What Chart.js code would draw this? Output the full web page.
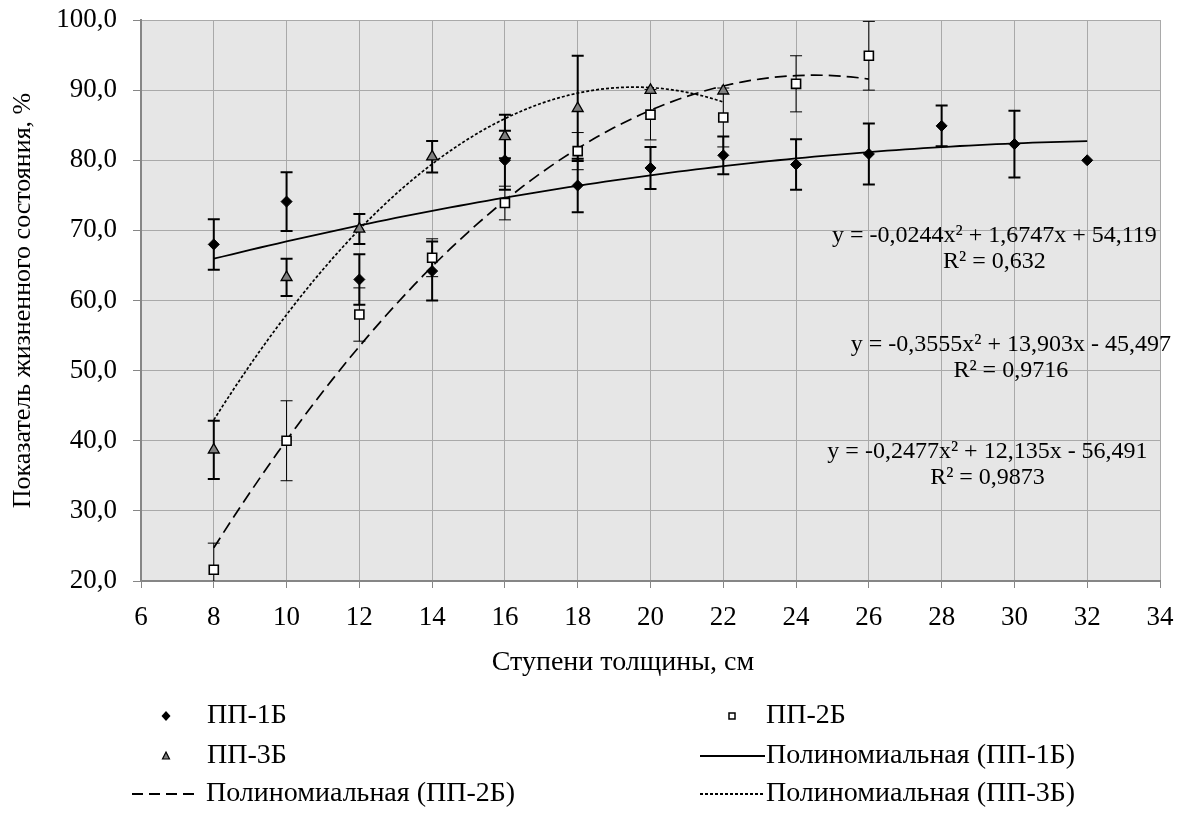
<!DOCTYPE html>
<html lang="ru">
<head>
<meta charset="utf-8">
<title>Показатель жизненного состояния</title>
<script src="https://cdn.jsdelivr.net/npm/chart.js@4.4.1/dist/chart.umd.min.js"></script>
<style>
  html, body { margin: 0; padding: 0; background: #fff; }
  #wrap { width: 1184px; height: 814px; }
</style>
</head>
<body>
<div id="wrap"><canvas id="my-chart" width="1184" height="814"></canvas></div>
<script>
'use strict';

//  DATA
let steps1 = [8, 10, 12, 14, 16, 18, 20, 22, 24, 26, 28, 30, 32];
let pp1Values = [68.0, 74.1, 63.0, 64.2, 80.0, 76.4, 78.9, 80.7, 79.4, 80.9, 84.9, 82.3, 80.0];
let pp1Errors = [3.6, 4.2, 3.6, 4.2, 4.2, 3.8, 3.0, 2.7, 3.6, 4.35, 2.9, 4.75, 0];

let steps2 = [8, 10, 12, 14, 16, 18, 20, 22, 24, 26];
let pp2Values = [21.6, 40.0, 58.0, 66.1, 73.9, 81.3, 86.5, 86.1, 90.9, 94.9];
let pp2Errors = [3.8, 5.7, 3.8, 2.7, 2.4, 2.65, 3.6, 4.2, 4.0, 4.9];

let steps3 = [8, 10, 12, 14, 16, 18, 20, 22];
let pp3Values = [38.7, 63.3, 70.2, 80.5, 83.4, 87.4, 90.0, 89.9];
let pp3Errors = [4.15, 2.65, 2.15, 2.25, 3.1, 7.5, 0, 0];

// trendline coefficients [a, b, c] for a*x^2 + b*x + c, as printed on the chart
let trend1Coef = [-0.0244, 1.6747, 54.119];
let trend2Coef = [-0.2477, 12.135, -56.491];
let trend3Coef = [-0.3555, 13.903, -45.497];

let seriesNames = ['ПП-1Б', 'ПП-2Б', 'ПП-3Б'];
let trendNames = ['Полиномиальная (ПП-1Б)', 'Полиномиальная (ПП-2Б)', 'Полиномиальная (ПП-3Б)'];
let trendEquations = ['y = -0,0244x² + 1,6747x + 54,119', 'y = -0,2477x² + 12,135x - 56,491', 'y = -0,3555x² + 13,903x - 45,497'];
let trendR2 = ['R² = 0,632', 'R² = 0,9873', 'R² = 0,9716'];

let xTicksMin = 6;
let xTicksMax = 34;
let xTickStep = 2;
let yTicksMin = 20;
let yTicksMax = 100;
let yTickStep = 10;

let xTitle = 'Ступени толщины, см';
let yTitle = 'Показатель жизненного состояния, %';

//  HELPERS
const FONT = '"Liberation Serif", "Times New Roman", serif';

function toPoints(xs, ys) {
  let pts = [];
  for (let i = 0; i < xs.length; i++) {
    pts.push({ x: xs[i], y: ys[i] });
  }
  return pts;
}

// sample the printed polynomial over the range of its series
function trendPoints(coef, from, to) {
  let pts = [];
  for (let x = from; x <= to + 1e-9; x += 0.25) {
    pts.push({ x: x, y: coef[0] * x * x + coef[1] * x + coef[2] });
  }
  return pts;
}

function fmtTick(v) {
  return v.toFixed(1).replace('.', ',');
}

// where the trendline labels sit, in data units (centre of text block, first line)
let labelAnchors = [
  { x: 29.45, y: 69.3 },
  { x: 29.26, y: 38.45 },
  { x: 29.9, y: 53.65 }
];

//  PLUGINS
let plotBackground = {
  id: 'plotBackground',
  beforeDraw(chart) {
    let a = chart.chartArea;
    let ctx = chart.ctx;
    ctx.save();
    ctx.fillStyle = '#e6e6e6';
    ctx.fillRect(a.left, a.top, a.right - a.left, a.bottom - a.top);
    ctx.restore();
  }
};

let errorBars = {
  id: 'errorBars',
  beforeDatasetsDraw(chart) {
    let ctx = chart.ctx;
    let xs = chart.scales.x;
    let ys = chart.scales.y;
    let a = chart.chartArea;
    ctx.save();
    ctx.beginPath();
    ctx.rect(a.left, a.top - 2, a.right - a.left, a.bottom - a.top + 2);
    ctx.clip();
    chart.data.datasets.forEach(function (ds) {
      if (!ds.errors) return;
      ctx.strokeStyle = '#000';
      ctx.lineWidth = ds.errorWidth;
      ds.data.forEach(function (p, i) {
        let e = ds.errors[i];
        if (!e) return;
        let x = xs.getPixelForValue(p.x);
        let yTop = ys.getPixelForValue(p.y + e);
        let yBot = ys.getPixelForValue(p.y - e);
        ctx.beginPath();
        ctx.moveTo(x, yTop);
        ctx.lineTo(x, yBot);
        ctx.moveTo(x - 6, yTop);
        ctx.lineTo(x + 6, yTop);
        ctx.moveTo(x - 6, yBot);
        ctx.lineTo(x + 6, yBot);
        ctx.stroke();
      });
    });
    ctx.restore();
  }
};

let trendLabels = {
  id: 'trendLabels',
  afterDatasetsDraw(chart) {
    let ctx = chart.ctx;
    let xs = chart.scales.x;
    let ys = chart.scales.y;
    ctx.save();
    ctx.fillStyle = '#000';
    ctx.font = '24px ' + FONT;
    ctx.textAlign = 'center';
    ctx.textBaseline = 'middle';
    for (let i = 0; i < labelAnchors.length; i++) {
      let cx = xs.getPixelForValue(labelAnchors[i].x);
      let cy = ys.getPixelForValue(labelAnchors[i].y);
      ctx.fillText(trendEquations[i], cx, cy);
      ctx.fillText(trendR2[i], cx, cy + 26);
    }
    ctx.restore();
  }
};

function drawMarker(ctx, kind, x, y) {
  ctx.save();
  ctx.beginPath();
  if (kind === 'diamond') {
    ctx.moveTo(x, y - 5);
    ctx.lineTo(x + 4.5, y);
    ctx.lineTo(x, y + 5);
    ctx.lineTo(x - 4.5, y);
    ctx.closePath();
    ctx.fillStyle = '#000';
    ctx.fill();
  } else if (kind === 'square') {
    ctx.rect(x - 3, y - 3, 6, 6);
    ctx.fillStyle = '#fff';
    ctx.fill();
    ctx.lineWidth = 1.5;
    ctx.strokeStyle = '#000';
    ctx.stroke();
  } else {
    ctx.moveTo(x, y - 4);
    ctx.lineTo(x + 3.5, y + 3);
    ctx.lineTo(x - 3.5, y + 3);
    ctx.closePath();
    ctx.fillStyle = '#7f7f7f';
    ctx.fill();
    ctx.lineWidth = 1.2;
    ctx.strokeStyle = '#000';
    ctx.stroke();
  }
  ctx.restore();
}

function drawSample(ctx, dash, x1, x2, y) {
  ctx.save();
  ctx.beginPath();
  ctx.setLineDash(dash);
  ctx.strokeStyle = '#000';
  ctx.lineWidth = 1.8;
  ctx.moveTo(x1, y);
  ctx.lineTo(x2, y);
  ctx.stroke();
  ctx.restore();
}

let bottomLegend = {
  id: 'bottomLegend',
  afterDraw(chart) {
    let ctx = chart.ctx;
    let rows = [716, 756, 794];
    ctx.save();
    ctx.fillStyle = '#000';
    ctx.font = '28px ' + FONT;
    ctx.textAlign = 'left';
    ctx.textBaseline = 'middle';

    drawMarker(ctx, 'diamond', 166, rows[0]);
    ctx.fillText(seriesNames[0], 207, rows[0]);
    drawMarker(ctx, 'square', 732, rows[0]);
    ctx.fillText(seriesNames[1], 766, rows[0]);

    drawMarker(ctx, 'triangle', 166, rows[1]);
    ctx.fillText(seriesNames[2], 207, rows[1]);
    drawSample(ctx, [], 700, 765, rows[1]);
    ctx.fillText(trendNames[0], 766, rows[1]);

    drawSample(ctx, [11, 6], 132, 198, rows[2]);
    ctx.fillText(trendNames[1], 206, rows[2]);
    drawSample(ctx, [3, 2], 700, 765, rows[2]);
    ctx.fillText(trendNames[2], 766, rows[2]);

    // x axis title
    ctx.textAlign = 'center';
    ctx.fillText(xTitle, 623, 663);
    ctx.restore();
  }
};

//  CHART CONFIG
let canvasElem = document.getElementById('my-chart');

let theChart = {
  type: 'scatter',
  data: {
    datasets: [
      {
        label: trendNames[0],
        data: trendPoints(trend1Coef, steps1[0], steps1[steps1.length - 1]),
        showLine: true,
        pointRadius: 0,
        borderColor: '#000',
        borderWidth: 1.8,
        order: 1
      },
      {
        label: trendNames[1],
        data: trendPoints(trend2Coef, steps2[0], steps2[steps2.length - 1]),
        showLine: true,
        pointRadius: 0,
        borderColor: '#000',
        borderWidth: 1.7,
        borderDash: [12, 6],
        order: 1
      },
      {
        label: trendNames[2],
        data: trendPoints(trend3Coef, steps3[0], steps3[steps3.length - 1]),
        showLine: true,
        pointRadius: 0,
        borderColor: '#000',
        borderWidth: 1.7,
        borderDash: [3, 2],
        order: 1
      },
      {
        label: seriesNames[0],
        data: toPoints(steps1, pp1Values),
        errors: pp1Errors,
        errorWidth: 2,
        pointStyle: 'rectRot',
        pointRadius: 5.5,
        backgroundColor: '#000',
        borderColor: '#000',
        borderWidth: 1,
        order: 0
      },
      {
        label: seriesNames[1],
        data: toPoints(steps2, pp2Values),
        errors: pp2Errors,
        errorWidth: 1,
        pointStyle: 'rect',
        pointRadius: 6.4,
        backgroundColor: '#fff',
        borderColor: '#000',
        borderWidth: 1.6,
        order: 0
      },
      {
        label: seriesNames[2],
        data: toPoints(steps3, pp3Values),
        errors: pp3Errors,
        errorWidth: 2,
        pointStyle: 'triangle',
        pointRadius: 6.3,
        backgroundColor: '#7f7f7f',
        borderColor: '#000',
        borderWidth: 1.3,
        order: 0
      }
    ]
  },
  options: {
    responsive: false,
    animation: false,
    layout: {
      padding: { left: 0, right: 24, top: 20, bottom: 133 }
    },
    plugins: {
      legend: { display: false },
      tooltip: { enabled: false }
    },
    scales: {
      x: {
        type: 'linear',
        min: xTicksMin,
        max: xTicksMax,
        ticks: {
          stepSize: xTickStep,
          color: '#000',
          font: { family: FONT, size: 27 },
          padding: 14,
          maxRotation: 0,
          autoSkip: false
        },
        grid: { color: '#a9a9a9', lineWidth: 1, tickColor: '#868686', tickLength: 7 },
        border: { color: '#868686', width: 2 },
        afterFit(scale) {
          scale.height = 100;
          scale.paddingLeft = 0;
          scale.paddingRight = 0;
        }
      },
      y: {
        type: 'linear',
        min: yTicksMin,
        max: yTicksMax,
        ticks: {
          stepSize: yTickStep,
          color: '#000',
          font: { family: FONT, size: 27 },
          padding: 16,
          callback: fmtTick
        },
        title: {
          display: true,
          text: yTitle,
          color: '#000',
          font: { family: FONT, size: 26 },
          padding: { top: 8, bottom: 0 }
        },
        grid: { color: '#a9a9a9', lineWidth: 1, tickColor: '#868686', tickLength: 8 },
        border: { color: '#868686', width: 2 },
        afterFit(scale) {
          scale.width = 141;
          scale.paddingTop = 0;
          scale.paddingBottom = 0;
        }
      }
    }
  },
  plugins: [plotBackground, errorBars, trendLabels, bottomLegend]
};

new Chart(canvasElem, theChart);
</script>
</body>
</html>
